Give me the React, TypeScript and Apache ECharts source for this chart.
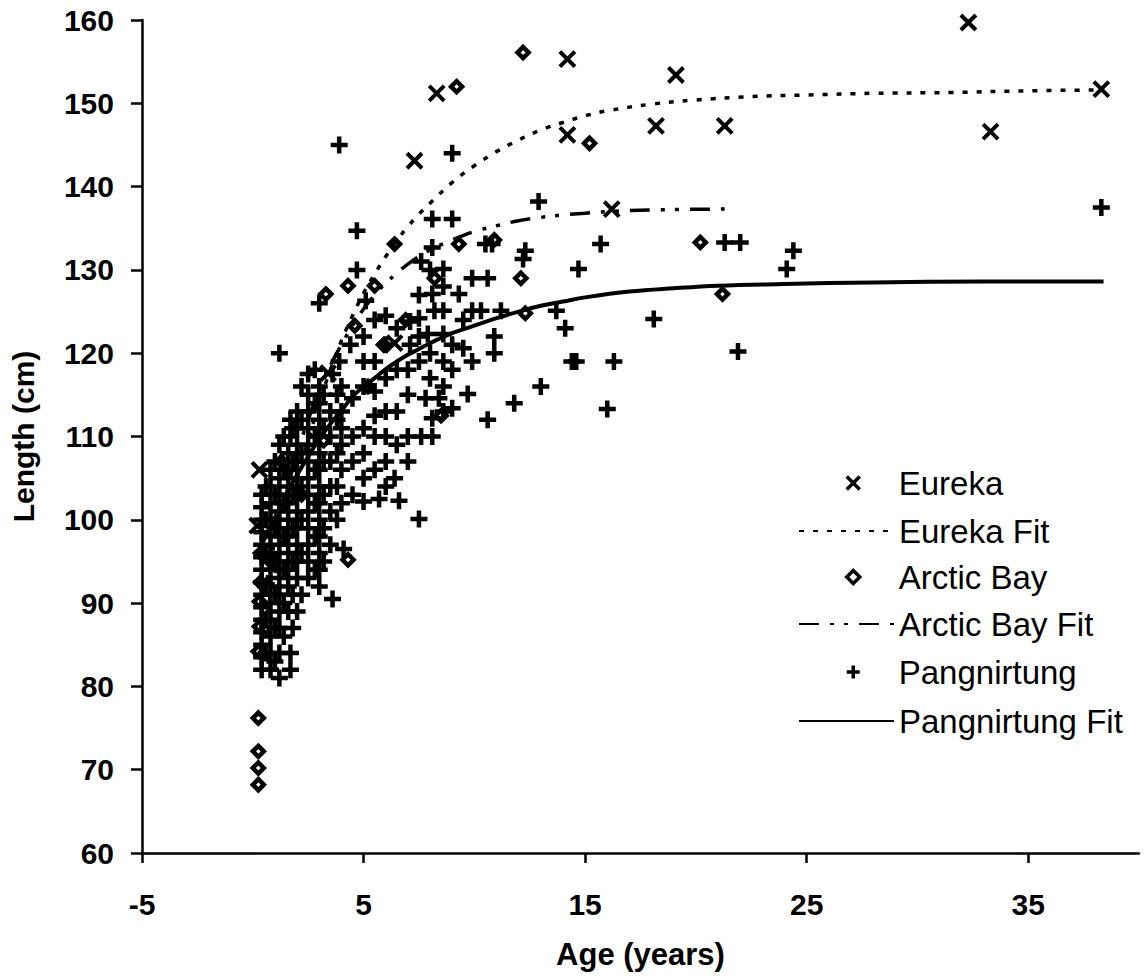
import React, { useEffect, useRef } from "react";
import * as echarts from "echarts";

const FONT = "'Liberation Sans', Arial, Helvetica, sans-serif";

// Axis ranges and tick labels
const xMin = -5;
const xMax = 40;
const xTickValues = [-5, 5, 15, 25, 35];
const yMin = 60;
const yMax = 160;
const yStep = 10;

// Observed lengths (age in years, length in cm)
const eureka: [number, number][] = [
  [0.2, 99.3], [0.3, 106], [3.4, 117.6], [6.4, 121.2], [7.3, 143.1], [8.3, 151.2],
  [14.2, 146.2], [14.2, 155.3], [16.2, 137.3], [18.2, 147.3], [19.1, 153.4],
  [21.3, 147.3], [32.3, 159.7], [33.3, 146.6], [38.3, 151.7],
];

const arcticBay: [number, number][] = [
  [0.25, 68.2], [0.25, 70.2], [0.25, 72.2], [0.25, 76.2], [0.25, 84.2], [0.3, 87.2],
  [0.3, 90.2], [0.35, 92.5], [0.35, 96], [0.8, 95], [1.3, 107], [2.2, 103],
  [3.2, 109.5], [3.3, 127.1], [4.3, 128.1], [4.6, 123.3], [4.3, 95.2], [5.5, 128.1],
  [5.2, 116], [5.9, 121], [6.4, 133.1], [6.9, 124], [8.2, 129], [8.5, 112.5],
  [9.3, 133.1], [9.2, 152], [10.9, 133.6], [12.1, 129], [12.3, 124.8], [12.2, 156.1],
  [15.2, 145.2], [20.2, 133.3], [21.2, 127.1],
];

const pangnirtung: [number, number][] = [
  [0.4, 82], [0.4, 83.5], [0.4, 85], [0.4, 86.5], [0.4, 88], [0.4, 89.5], [0.4, 91],
  [0.4, 92.5], [0.4, 94], [0.4, 95.5], [0.4, 97], [0.4, 98.5], [0.4, 100], [0.4, 101.5],
  [0.4, 103],
  [0.6, 84], [0.6, 88], [0.6, 92], [0.6, 96], [0.6, 100], [0.6, 104],
  [0.8, 82], [0.8, 84], [0.8, 86], [0.8, 88], [0.8, 90], [0.8, 92], [0.8, 94], [0.8, 96],
  [0.8, 98], [0.8, 100], [0.8, 102], [0.8, 104], [0.8, 106],
  [1.0, 83], [1.0, 87], [1.0, 91], [1.0, 95], [1.0, 99], [1.0, 103], [1.0, 107],
  [1.2, 81], [1.2, 84], [1.2, 87], [1.2, 89], [1.2, 91], [1.2, 93], [1.2, 95], [1.2, 97],
  [1.2, 99], [1.2, 101], [1.2, 103], [1.2, 105], [1.2, 109], [1.2, 120],
  [1.4, 86], [1.4, 90], [1.4, 94], [1.4, 98], [1.4, 102], [1.4, 106], [1.4, 110],
  [1.7, 82], [1.7, 84], [1.6, 89], [1.6, 92], [1.6, 94], [1.6, 96], [1.6, 98], [1.6, 100],
  [1.6, 102], [1.6, 104], [1.6, 106], [1.6, 108], [1.7, 110], [1.7, 112],
  [1.8, 87], [1.8, 91], [1.8, 95], [1.8, 99], [1.8, 103], [1.8, 107], [1.8, 111],
  [2.0, 89], [2.0, 93], [2.0, 95], [2.0, 97], [2.0, 99], [2.0, 101], [2.0, 103], [2.0, 105],
  [2.0, 107], [2.0, 109], [2.0, 111], [2.0, 113],
  [2.2, 91], [2.2, 96], [2.2, 100], [2.2, 104], [2.2, 108], [2.2, 112], [2.2, 116],
  [2.5, 93], [2.5, 95], [2.5, 97], [2.5, 99], [2.5, 101], [2.5, 103], [2.5, 105], [2.5, 107],
  [2.5, 109], [2.5, 111], [2.5, 113], [2.5, 115], [2.5, 117.5],
  [2.8, 94], [2.8, 98], [2.8, 102], [2.8, 106], [2.8, 110], [2.8, 114], [2.8, 118],
  [3.0, 92], [3.0, 94], [3.0, 96], [3.0, 98], [3.0, 100], [3.0, 102], [3.0, 104], [3.0, 106],
  [3.0, 108], [3.0, 110], [3.0, 112], [3.0, 114], [3.0, 116], [3.0, 126],
  [3.2, 95], [3.2, 99], [3.2, 103], [3.2, 107], [3.2, 111], [3.2, 115],
  [3.6, 90.5], [3.5, 97], [3.5, 101], [3.5, 104], [3.5, 107], [3.5, 110], [3.5, 113], [3.6, 117.5],
  [3.8, 100], [3.8, 104], [3.8, 108], [3.8, 112], [3.8, 115],
  [4.1, 96.5], [4.0, 102], [4.0, 106], [4.0, 109], [4.0, 111], [4.0, 113], [4.0, 116],
  [3.9, 119], [3.9, 145],
  [4.5, 103], [4.5, 107], [4.5, 110], [4.5, 114.6], [4.4, 121], [4.7, 130], [4.7, 134.7],
  [5.0, 102.2], [5.0, 105], [5.0, 108], [5.0, 111], [5.0, 116], [5.0, 119], [5.0, 122], [5.1, 126.3],
  [5.7, 102.5], [5.5, 106], [5.5, 110], [5.5, 112.5], [5.5, 115.4], [5.5, 119], [5.5, 124],
  [6.0, 104], [6.0, 107], [6.0, 110], [6.0, 113], [6.0, 117], [6.0, 121], [6.0, 124.5],
  [6.6, 102.3], [6.4, 105], [6.5, 109], [6.5, 113], [6.5, 118], [6.5, 123],
  [7.0, 107], [7.0, 110], [7.0, 115], [7.0, 118], [7.1, 121], [7.1, 123.8],
  [7.5, 100.1], [7.6, 110], [7.8, 114.6], [7.5, 119], [7.5, 122], [7.5, 124.2], [7.5, 127], [7.6, 131],
  [8.1, 110], [8.1, 112.2], [8.4, 114.6], [8.0, 117], [8.0, 120], [7.9, 122.3], [8.2, 125.1],
  [8.1, 127.1], [8.0, 130], [8.1, 132.7], [8.1, 136.1],
  [8.6, 113], [8.6, 116], [8.6, 119], [8.6, 122.3], [8.6, 125.1], [8.6, 128], [8.6, 130.1],
  [9.0, 113.4], [9.0, 118], [9.0, 121], [9.3, 127.1], [9.0, 136.1], [9.0, 144],
  [9.7, 115.1], [9.5, 120.6], [9.5, 124], [9.9, 129],
  [9.9, 119], [9.9, 125.1], [10.6, 129], [10.5, 133.1],
  [10.6, 112], [10.9, 120], [10.9, 122], [10.3, 125.1], [11.2, 125.1], [10.8, 133.1],
  [11.8, 114], [12.2, 131.3], [12.3, 132.3], [12.9, 138.2], [13.0, 116], [13.7, 125.1],
  [14.1, 123], [14.4, 119], [14.6, 119], [14.7, 130.1], [15.7, 133.1], [16.0, 113.3],
  [16.3, 119], [18.1, 124.1], [21.3, 133.3], [22.0, 133.3], [21.9, 120.2], [24.4, 132.3],
  [24.1, 130.1], [38.3, 137.5],
];

// Fitted growth curves, read as points along each curve
const eurekaFit: [number, number][] = [
  [0.5, 87], [1, 93.5], [1.5, 99.5], [2, 105], [2.5, 109.5], [3, 114], [3.5, 118],
  [4, 121.5], [4.5, 124.5], [5, 127.2], [5.5, 129.5], [6, 131.6], [6.5, 133.5], [7, 135.2],
  [7.5, 136.7], [8, 138], [9, 140.5], [10, 142.5], [11, 144.2], [12, 145.6], [13, 146.8],
  [14, 147.7], [15, 148.5], [16, 149.1], [18, 149.9], [20, 150.4], [22.5, 150.8],
  [25, 151], [28, 151.2], [31.5, 151.3], [35, 151.5], [38.3, 151.6],
];

const arcticBayFit: [number, number][] = [
  [0.5, 91], [1, 97.5], [1.5, 103], [2, 108], [2.5, 112], [3, 115.5], [3.5, 118.5],
  [4, 121], [4.5, 123.3], [5, 125.3], [5.5, 127], [6, 128.4], [6.5, 129.6], [7, 130.7],
  [7.5, 131.6], [8, 132.4], [9, 133.6], [10, 134.6], [11, 135.3], [12, 135.9], [13, 136.3],
  [14, 136.6], [15, 136.8], [16, 137], [18, 137.2], [21.3, 137.3],
];

const pangnirtungFit: [number, number][] = [
  [0.4, 97], [1, 100.3], [1.5, 103], [2, 105.4], [2.5, 107.6], [3, 109.7], [3.5, 111.5],
  [4, 113.1], [4.5, 114.8], [5, 116], [5.5, 117], [6, 118.1], [6.5, 119], [7, 119.8],
  [7.5, 120.5], [8, 121.2], [9, 122.4], [10, 123.3], [11, 124.2], [12, 125], [13, 125.7],
  [14, 126.2], [15, 126.7], [17, 127.4], [19, 127.8], [21, 128.1], [24, 128.3], [28, 128.5],
  [33, 128.6], [38.4, 128.6],
];

// Marker glyphs
const CROSS = "path://M0,0L10,10M10,0L0,10";
const PLUS = "path://M5,0L5,10M0,5L10,5";
const DIAMOND = "path://M5,0L10,5L5,10L0,5Z";

const legendFontSize = 33;
const legendText = {
  color: "#000",
  fontFamily: FONT,
  fontSize: legendFontSize,
  lineHeight: legendFontSize,
};

function pointLegend(name: string, centerY: number) {
  return {
    data: [name],
    left: 845,
    top: centerY - legendFontSize / 2,
    padding: 0,
    itemWidth: 13,
    itemHeight: 13,
    selectedMode: false,
    itemStyle: { borderWidth: 3.5 },
    textStyle: { ...legendText, padding: [0, 0, 0, 34] },
  };
}

function lineLegend(name: string, centerY: number) {
  return {
    data: [name],
    left: 798,
    top: centerY - legendFontSize / 2,
    padding: 0,
    itemWidth: 95,
    itemHeight: 16,
    selectedMode: false,
    // hide the marker that line legends draw at the middle of the stroke
    itemStyle: { color: "rgba(0,0,0,0)", borderWidth: 0, opacity: 0 },
    textStyle: { ...legendText },
  };
}

const axisLabelStyle = {
  color: "#000",
  fontFamily: FONT,
  fontSize: 30,
  fontWeight: "bold" as const,
};

const axisLineStyle = { color: "#000", width: 2.5 };

export default function App() {
  const ref = useRef<HTMLDivElement>(null);

  useEffect(() => {
    if (!ref.current) return;
    const chart = echarts.init(ref.current, null, { renderer: "svg" });

    const scatterStyle = (symbol: string, size: number, fill: string, bw: number) => ({
      type: "scatter" as const,
      symbol,
      symbolSize: size,
      silent: true,
      itemStyle: { color: fill, borderColor: "#000", borderWidth: bw, opacity: 1 },
    });

    const fitStyle = (dash: any, width: number) => ({
      type: "line" as const,
      symbol: "none",
      showSymbol: false,
      smooth: 0.4,
      silent: true,
      color: "#000",
      lineStyle: { color: "#000", width, type: dash },
    });

    chart.setOption({
      animation: false,
      backgroundColor: "#fff",
      grid: { left: 140, right: 9, top: 20, bottom: 126 },
      xAxis: {
        type: "value",
        min: xMin,
        max: xMax,
        interval: 10,
        axisLine: { onZero: false, lineStyle: axisLineStyle },
        axisTick: {
          show: true,
          customValues: xTickValues,
          length: 10,
          lineStyle: axisLineStyle,
        },
        axisLabel: {
          ...axisLabelStyle,
          customValues: xTickValues,
          margin: 36,
        },
        splitLine: { show: false },
        name: "Age (years)",
        nameLocation: "middle",
        nameGap: 86,
        nameTextStyle: { ...axisLabelStyle, fontSize: 31, lineHeight: 31 },
      },
      yAxis: {
        type: "value",
        min: yMin,
        max: yMax,
        interval: yStep,
        axisLine: { onZero: false, lineStyle: axisLineStyle },
        axisTick: { show: true, length: 11, lineStyle: axisLineStyle },
        axisLabel: { ...axisLabelStyle, margin: 28 },
        splitLine: { show: false },
        name: "Length (cm)",
        nameLocation: "middle",
        nameGap: 104,
        nameTextStyle: { ...axisLabelStyle, fontSize: 30, lineHeight: 30 },
      },
      legend: [
        pointLegend("Eureka", 483),
        lineLegend("Eureka Fit", 531),
        pointLegend("Arctic Bay", 577),
        lineLegend("Arctic Bay Fit", 624),
        pointLegend("Pangnirtung", 672),
        lineLegend("Pangnirtung Fit", 721),
      ],
      series: [
        { name: "Pangnirtung", data: pangnirtung, ...scatterStyle(PLUS, 17, "#000", 4.5) },
        { name: "Arctic Bay", data: arcticBay, ...scatterStyle(DIAMOND, 11, "rgba(0,0,0,0)", 4.5) },
        { name: "Eureka", data: eureka, ...scatterStyle(CROSS, 15, "#000", 4) },
        { name: "Eureka Fit", data: eurekaFit, ...fitStyle([5, 9], 3.5) },
        { name: "Arctic Bay Fit", data: arcticBayFit, ...fitStyle([20, 11, 4, 10, 4, 11], 3.5) },
        { name: "Pangnirtung Fit", data: pangnirtungFit, ...fitStyle("solid", 4) },
      ],
    });

    return () => chart.dispose();
  }, []);

  return (
    <div
      ref={ref}
      style={{ position: "fixed", left: 0, top: 0, width: 1148, height: 979, background: "#fff" }}
    />
  );
}
